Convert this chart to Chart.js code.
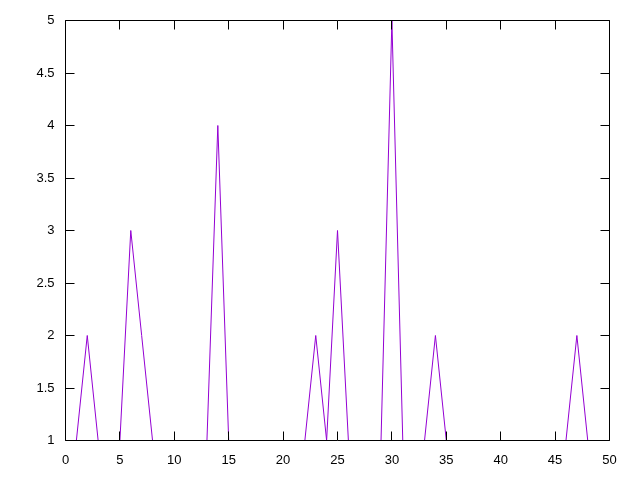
<!DOCTYPE html>
<html>
<head>
<meta charset="utf-8">
<script src="https://cdn.jsdelivr.net/npm/chart.js@4/dist/chart.umd.min.js"></script>
<style>
  html, body { margin: 0; padding: 0; background: #fff; }
  #wrap { width: 640px; height: 480px; }
</style>
</head>
<body>
<div id="wrap"><canvas id="chart" width="640" height="480"></canvas></div>
<script>
// x positions and series values
const xs = [0,1,2,3,4,5,6,7,8,9,10,11,12,13,14,15,16,17,18,19,20,21,22,23,24,25,
            26,27,28,29,30,31,32,33,34,35,36,37,38,39,40,41,42,43,44,45,46,47,48,49,50];
const ys = [1,1,2,1,1,1,3,2,1,1,1,1,1,1,4,1,1,1,1,1,1,1,1,2,1,3,
            1,1,1,1,5,1,1,1,2,1,1,1,1,1,1,1,1,1,1,1,1,2,1,1,1];
const xTicks = [0,5,10,15,20,25,30,35,40,45,50];
const yTicks = [1,1.5,2,2.5,3,3.5,4,4.5,5];

const points = xs.map((x, i) => ({ x: x, y: ys[i] }));

// gnuplot-style frame with inward ticks, mirrored on top and right
const frame = {
  id: "frame",
  afterDraw(chart) {
    const { ctx, chartArea: a, scales } = chart;
    ctx.save();
    ctx.strokeStyle = "#000";
    ctx.lineWidth = 1;
    ctx.beginPath();
    const L = Math.floor(a.left) + 0.5, R = Math.floor(a.right) + 0.5;
    const T = Math.floor(a.top) + 0.5, B = Math.floor(a.bottom) + 0.5;
    ctx.rect(L, T, R - L, B - T);
    const len = 9;
    scales.x.ticks.forEach(t => {
      const px = Math.floor(scales.x.getPixelForValue(t.value)) + 0.5;
      ctx.moveTo(px, B); ctx.lineTo(px, B - len);
      ctx.moveTo(px, T); ctx.lineTo(px, T + len);
    });
    scales.y.ticks.forEach(t => {
      const py = Math.floor(scales.y.getPixelForValue(t.value)) + 0.5;
      ctx.moveTo(L, py); ctx.lineTo(L + len, py);
      ctx.moveTo(R, py); ctx.lineTo(R - len, py);
    });
    ctx.stroke();
    ctx.restore();
  }
};

new Chart(document.getElementById("chart"), {
  type: "line",
  data: {
    datasets: [{
      data: points,
      borderColor: "#9400D3",
      borderWidth: 1,
      pointRadius: 0,
      tension: 0,
      fill: false
    }]
  },
  options: {
    responsive: false,
    animation: false,
    layout: { padding: { left: 0, top: 20.5, right: 30.5, bottom: 0 } },
    plugins: { legend: { display: false }, tooltip: { enabled: false } },
    scales: {
      x: {
        type: "linear",
        min: 0, max: 50,
        afterBuildTicks: s => { s.ticks = xTicks.map(v => ({ value: v })); },
        afterFit: s => { s.height = 39.5; },
        grid: { display: false, drawTicks: false },
        border: { display: false },
        ticks: { color: "#000", padding: 12, font: { family: "Liberation Sans", size: 13 },
                 callback: v => String(v) }
      },
      y: {
        min: 1, max: 5,
        afterBuildTicks: s => { s.ticks = yTicks.map(v => ({ value: v })); },
        afterFit: s => { s.width = 65.5; },
        grid: { display: false, drawTicks: false },
        border: { display: false },
        ticks: { color: "#000", padding: 11, font: { family: "Liberation Sans", size: 13 },
                 callback: v => String(v) }
      }
    }
  },
  plugins: [frame]
});
</script>
</body>
</html>
